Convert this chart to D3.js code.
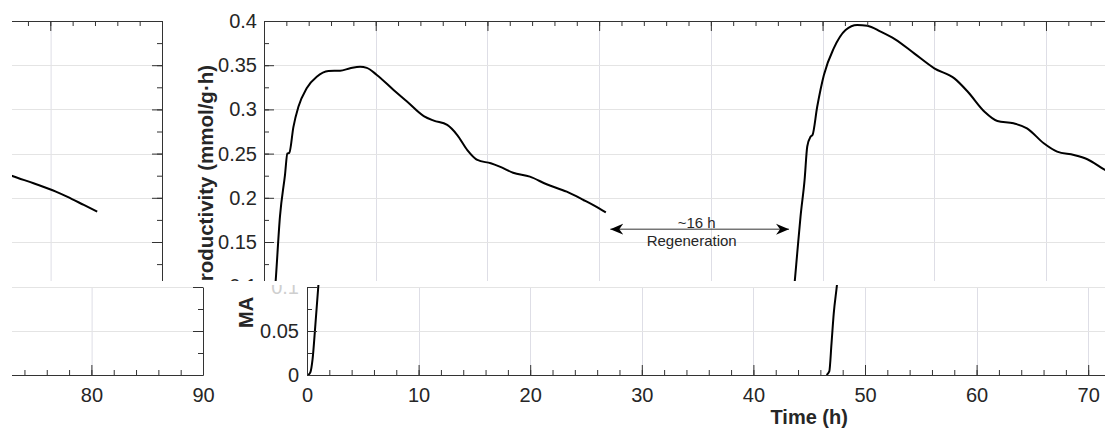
<!DOCTYPE html>
<html>
<head>
<meta charset="utf-8">
<script src="https://cdn.jsdelivr.net/npm/d3@7"></script>
<style>
  body { margin: 0; background: #fff; }
  svg { display: block; font-family: "Liberation Sans", Arial, sans-serif; }
</style>
</head>
<body>
<svg id="chart" width="1105" height="429"></svg>
<script>
// first production cycle (h, mmol/g·h)
const cycle1Time = [0.1, 0.3, 0.5, 0.75, 1.05, 1.43, 1.88, 2.09, 2.27, 2.63, 3.08, 3.82, 4.72, 5.77, 6.81, 7.71, 8.6, 9.2, 10.1, 11.6, 12.8, 14.3, 15.2, 16.4, 17.3, 18.2, 19.1, 20.3, 21.1, 22.3, 23.8, 25.3, 27.1, 28.6, 30.0, 30.6]
const cycle1Prod = [0, 0.003, 0.018, 0.057, 0.107, 0.179, 0.226, 0.25, 0.251, 0.28, 0.303, 0.324, 0.337, 0.3434, 0.3438, 0.3465, 0.3483, 0.347, 0.339, 0.322, 0.309, 0.2925, 0.2873, 0.2824, 0.271, 0.254, 0.2428, 0.239, 0.2352, 0.2284, 0.2239, 0.2153, 0.2069, 0.1975, 0.1881, 0.1836]
// second cycle, after regeneration
const cycle2Time = [46.55, 46.8, 47.0, 47.2, 47.5, 47.73, 48.03, 48.39, 48.63, 48.92, 49.1, 49.52, 50.12, 51.0, 52.06, 53.1, 54.0, 55.2, 56.5, 58.2, 60.0, 61.8, 63.0, 64.5, 65.65, 67.1, 68.3, 69.8, 71.0, 72.5, 73.7, 75.4, 76.6, 78.5, 80.5, 81.5, 83.0, 84.2]
const cycle2Prod = [0, 0.004, 0.036, 0.070, 0.104, 0.137, 0.179, 0.220, 0.258, 0.269, 0.271, 0.303, 0.339, 0.369, 0.3898, 0.3955, 0.3947, 0.388, 0.3793, 0.3634, 0.3465, 0.3351, 0.320, 0.2974, 0.2869, 0.2843, 0.2786, 0.2617, 0.2522, 0.2484, 0.2436, 0.2307, 0.2247, 0.2164, 0.207, 0.2013, 0.1919, 0.1843]

const timeTicks = [0, 10, 20, 30, 40, 50, 60, 70, 80, 90]
const topTicks = [0.1, 0.15, 0.2, 0.25, 0.3, 0.35, 0.4]
const topTickLabels = ['0.1', '0.15', '0.2', '0.25', '0.3', '0.35', '0.4']
const bottomTicks = [0, 0.05, 0.1]
const bottomTickLabels = ['0', '0.05', '0.1']

const regenFrom = 31, regenTo = 47, regenLevel = 0.1645
const regenText = ['~16 h', 'Regeneration']
const topLabel = 'Productivity (mmol/g·h)'
const bottomLabel = 'MA'
const xLabel = 'Time (h)'

const axisColor = '#333'
const gridColor = '#e4e4e4'
const textColor = '#262626'

const svg = d3.select('#chart')
svg.append('rect').attr('width', 1105).attr('height', 429).attr('fill', '#fff')
const defs = svg.append('defs')

const addClip = (id, x, y, w, h) => defs.append('clipPath').attr('id', id)
  .append('rect').attr('x', x).attr('y', y).attr('width', w).attr('height', h)
addClip('clipTopMain', 0, 0, 1105, 281)
addClip('clipTopWrap', 12, 0, 190, 281)
addClip('clipBotMain', 0, 285, 1105, 144)
addClip('clipBotWrap', 12, 285, 215, 144)

defs.append('marker')
  .attr('id', 'regenArrow')
  .attr('viewBox', '0 -6 13 12')
  .attr('refX', 13).attr('refY', 0)
  .attr('markerWidth', 13).attr('markerHeight', 12)
  .attr('markerUnits', 'userSpaceOnUse')
  .attr('orient', 'auto-start-reverse')
  .append('path')
  .attr('d', 'M0,-5.5L13,0L0,5.5L4,0Z')
  .attr('fill', '#000')

const xTop = d3.scaleLinear().domain([0, 90]).range([264, 1269.4])
const yTop = d3.scaleLinear().domain([0.1, 0.4]).range([286.2, 21])
const xBot = d3.scaleLinear().domain([0, 90]).range([307, 1311.4])
const yBot = d3.scaleLinear().domain([0, 0.1]).range([375, 287])

const cycles = [d3.zip(cycle1Time, cycle1Prod), d3.zip(cycle2Time, cycle2Prod)]
const minorTime = d3.range(0, 91, 2)
const px = v => Math.round(v) + 0.5

const styleAxis = (g, size) => {
  g.select('.domain').attr('stroke', axisColor)
  g.selectAll('.tick line').attr('stroke', axisColor)
  g.selectAll('.tick text').attr('fill', textColor).attr('font-size', size || 20)
  g.attr('font-family', null)
}

const drawGrid = (g, x, y, yVals) => {
  let grid = g.append('g').attr('class', 'grid')
  grid.selectAll('line.v').data(timeTicks.slice(1, -1)).enter().append('line')
    .attr('class', 'v')
    .attr('x1', d => px(x(d))).attr('x2', d => px(x(d)))
    .attr('y1', y.range()[0]).attr('y2', y.range()[1])
    .attr('stroke', '#dedee6')
  grid.selectAll('line.h').data(yVals).enter().append('line')
    .attr('class', 'h')
    .attr('x1', x.range()[0]).attr('x2', x.range()[1])
    .attr('y1', d => px(y(d))).attr('y2', d => px(y(d)))
    .attr('stroke', gridColor)
}

const drawCurves = (g, x, y) => {
  const line = d3.line().x(d => x(d[0])).y(d => y(d[1])).curve(d3.curveMonotoneX)
  g.selectAll('path.prod').data(cycles).enter().append('path')
    .attr('class', 'prod')
    .attr('d', line)
    .attr('fill', 'none')
    .attr('stroke', '#000')
    .attr('stroke-width', 2)
    .attr('stroke-linejoin', 'round')
}

const drawTopPanel = parent => {
  drawGrid(parent, xTop, yTop, topTicks.slice(1, -1).concat([0.1]))
  drawCurves(parent, xTop, yTop)

  const x0 = xTop.range()[0], x1 = xTop.range()[1]
  const y1 = yTop.range()[1]
  const minorY = d3.range(0.1, 0.4001, 0.025)

  // top edge
  parent.append('g').attr('transform', `translate(0,${y1})`)
    .call(d3.axisTop(xTop).tickValues(minorTime).tickSize(-5).tickSizeOuter(0).tickFormat(''))
    .call(g => styleAxis(g))
  parent.append('g').attr('transform', `translate(0,${y1})`)
    .call(d3.axisTop(xTop).tickValues(timeTicks).tickSize(-10).tickSizeOuter(0).tickFormat(''))
    .call(g => { styleAxis(g); g.select('.domain').remove() })
  // left edge
  parent.append('g').attr('transform', `translate(${x0},0)`)
    .call(d3.axisLeft(yTop).tickValues(minorY).tickSize(-5).tickSizeOuter(0).tickFormat(''))
    .call(g => styleAxis(g))
  parent.append('g').attr('transform', `translate(${x0},0)`)
    .call(d3.axisLeft(yTop).tickValues(topTicks).tickSize(-10).tickPadding(7).tickFormat((d, i) => topTickLabels[i]))
    .call(g => { styleAxis(g); g.select('.domain').remove() })
  // right edge
  parent.append('g').attr('transform', `translate(${x1},0)`)
    .call(d3.axisRight(yTop).tickValues(minorY).tickSize(-5).tickSizeOuter(0).tickFormat(''))
    .call(g => styleAxis(g))
  parent.append('g').attr('transform', `translate(${x1},0)`)
    .call(d3.axisRight(yTop).tickValues(topTicks).tickSize(-10).tickFormat(''))
    .call(g => { styleAxis(g); g.select('.domain').remove() })

  // label runs below the panel edge, so its first letter is hidden
  parent.append('text')
    .attr('transform', `translate(${x0 - 51},295) rotate(-90)`)
    .attr('font-size', 20.5).attr('font-weight', 'bold')
    .attr('fill', textColor)
    .text(topLabel)

  // regeneration gap
  const ay = yTop(regenLevel)
  const mid = (xTop(regenFrom) + xTop(regenTo)) / 2
  parent.append('line')
    .attr('x1', xTop(regenFrom)).attr('x2', xTop(regenTo))
    .attr('y1', ay).attr('y2', ay)
    .attr('stroke', '#333').attr('stroke-width', 1)
    .attr('marker-start', 'url(#regenArrow)')
    .attr('marker-end', 'url(#regenArrow)')
  parent.selectAll('text.regen').data(regenText).enter().append('text')
    .attr('class', 'regen')
    .attr('x', (d, i) => mid - 3 - i * 5)
    .attr('y', (d, i) => ay - 1.5 + i * 18.5)
    .attr('text-anchor', 'middle')
    .attr('font-size', 15)
    .attr('fill', textColor)
    .text(d => d)
}

const drawBottomPanel = parent => {
  drawGrid(parent, xBot, yBot, [0.05, 0.1])
  drawCurves(parent, xBot, yBot)

  const x0 = xBot.range()[0], x1 = xBot.range()[1]
  const y0 = yBot.range()[0]
  const minorY = d3.range(0, 0.1001, 0.025)

  parent.append('g').attr('transform', `translate(0,${y0})`)
    .call(d3.axisBottom(xBot).tickValues(minorTime).tickSize(-5).tickSizeOuter(0).tickFormat(''))
    .call(g => styleAxis(g))
  parent.append('g').attr('transform', `translate(0,${y0})`)
    .call(d3.axisBottom(xBot).tickValues(timeTicks).tickSize(-10).tickSizeOuter(0).tickPadding(13))
    .call(g => { styleAxis(g); g.select('.domain').remove() })

  parent.append('g').attr('transform', `translate(${x0},0)`)
    .call(d3.axisLeft(yBot).tickValues(minorY).tickSize(-5).tickSizeOuter(0).tickFormat(''))
    .call(g => styleAxis(g))
  parent.append('g').attr('transform', `translate(${x0},0)`)
    .call(d3.axisLeft(yBot).tickValues(bottomTicks).tickSize(-10).tickPadding(8).tickFormat((d, i) => bottomTickLabels[i]))
    .call(g => {
      styleAxis(g)
      g.select('.domain').remove()
      g.selectAll('.tick text').filter(d => d === 0.1).attr('fill', '#cfcfcf')
    })

  parent.append('g').attr('transform', `translate(${x1},0)`)
    .call(d3.axisRight(yBot).tickValues(minorY).tickSize(-5).tickSizeOuter(0).tickFormat(''))
    .call(g => styleAxis(g))
  parent.append('g').attr('transform', `translate(${x1},0)`)
    .call(d3.axisRight(yBot).tickValues(bottomTicks).tickSize(-10).tickFormat(''))
    .call(g => { styleAxis(g); g.select('.domain').remove() })

  parent.append('text')
    .attr('transform', `translate(${x0 - 54},328) rotate(-90)`)
    .attr('font-size', 20).attr('font-weight', 'bold')
    .attr('fill', textColor)
    .text(bottomLabel)

  parent.append('text')
    .attr('x', (x0 + x1) / 2).attr('y', 424)
    .attr('text-anchor', 'middle')
    .attr('font-size', 20).attr('font-weight', 'bold')
    .attr('fill', textColor)
    .text(xLabel)
}

// the figure wraps: its right end (80-90 h) reappears on the left
drawTopPanel(svg.append('g').attr('clip-path', 'url(#clipTopMain)'))
drawTopPanel(svg.append('g').attr('clip-path', 'url(#clipTopWrap)')
  .append('g').attr('transform', 'translate(-1107.4,0)'))
drawBottomPanel(svg.append('g').attr('clip-path', 'url(#clipBotMain)'))
drawBottomPanel(svg.append('g').attr('clip-path', 'url(#clipBotWrap)')
  .append('g').attr('transform', 'translate(-1108.4,0)'))
</script>
</body>
</html>
